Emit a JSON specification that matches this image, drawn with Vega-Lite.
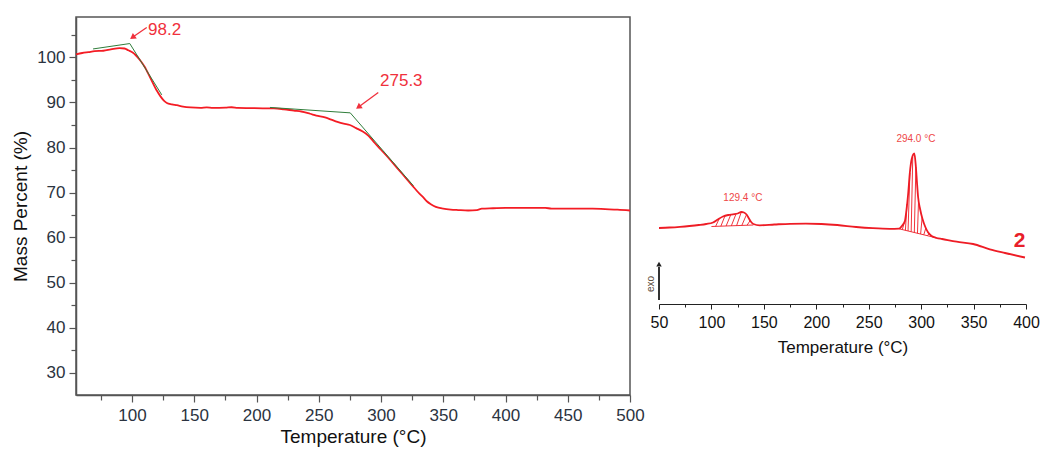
{
  "$schema": "https://vega.github.io/schema/vega-lite/v6.json",
  "padding": {"left": 10, "top": 16, "right": 0, "bottom": 0},
  "spacing": 29,
  "bounds": "flush",
  "config": {"font": "Liberation Sans", "view": {"stroke": null}, "axis": {"grid": false, "labelOverlap": false}},
  "datasets": {
    "tga": [
      {"T": 55, "m": 100.7}, {"T": 60, "m": 101.0}, {"T": 65, "m": 101.2}, {"T": 70, "m": 101.4}, {"T": 77, "m": 101.5},
      {"T": 83, "m": 101.8}, {"T": 90, "m": 102.1}, {"T": 94, "m": 102.0}, {"T": 97, "m": 101.6}, {"T": 100.5, "m": 101.1},
      {"T": 103, "m": 100.5}, {"T": 106.5, "m": 99.4}, {"T": 110, "m": 98.0}, {"T": 115, "m": 95.3}, {"T": 120, "m": 92.6},
      {"T": 123, "m": 91.3}, {"T": 126, "m": 90.3}, {"T": 128, "m": 89.9}, {"T": 132, "m": 89.6}, {"T": 136, "m": 89.4},
      {"T": 141, "m": 89.1}, {"T": 147, "m": 88.9}, {"T": 155, "m": 88.8}, {"T": 160, "m": 88.9}, {"T": 165, "m": 88.8},
      {"T": 175, "m": 88.85}, {"T": 180, "m": 88.95}, {"T": 185, "m": 88.8}, {"T": 195, "m": 88.75}, {"T": 205, "m": 88.7},
      {"T": 214, "m": 88.7}, {"T": 222, "m": 88.5}, {"T": 230, "m": 88.2}, {"T": 236, "m": 88.0}, {"T": 243, "m": 87.5},
      {"T": 248, "m": 87.1}, {"T": 255, "m": 86.7}, {"T": 260, "m": 86.2}, {"T": 265, "m": 85.7}, {"T": 270, "m": 85.3},
      {"T": 275, "m": 85.0}, {"T": 280, "m": 84.3}, {"T": 285, "m": 83.6}, {"T": 290, "m": 82.6}, {"T": 295, "m": 81.0},
      {"T": 300, "m": 79.5}, {"T": 305, "m": 78.0}, {"T": 310, "m": 76.4}, {"T": 315, "m": 74.8}, {"T": 320, "m": 73.2},
      {"T": 325, "m": 71.6}, {"T": 330, "m": 70.0}, {"T": 334, "m": 68.9}, {"T": 337, "m": 68.0}, {"T": 340, "m": 67.4},
      {"T": 344, "m": 66.8}, {"T": 350, "m": 66.4}, {"T": 356, "m": 66.2}, {"T": 362, "m": 66.1}, {"T": 370, "m": 66.0},
      {"T": 377, "m": 66.1}, {"T": 381, "m": 66.4}, {"T": 390, "m": 66.5}, {"T": 400, "m": 66.6}, {"T": 410, "m": 66.6},
      {"T": 420, "m": 66.6}, {"T": 432, "m": 66.6}, {"T": 437, "m": 66.4}, {"T": 450, "m": 66.4}, {"T": 460, "m": 66.4},
      {"T": 470, "m": 66.4}, {"T": 480, "m": 66.3}, {"T": 490, "m": 66.2}, {"T": 500, "m": 66.0}
    ],
    "tangent": [
      {"seg": "a", "T": 68.7, "m": 101.9}, {"seg": "a", "T": 98.2, "m": 103.1}, {"seg": "a", "T": 123.9, "m": 91.7},
      {"seg": "b", "T": 210.8, "m": 88.9}, {"seg": "b", "T": 275.3, "m": 87.7}, {"seg": "b", "T": 326, "m": 71.5}
    ],
    "arrows": [
      {"T": 111.8, "m": 106.65, "T2": 101.0, "m2": 104.6, "label": "98.2", "lT": 112.9, "lm": 106.1},
      {"T": 297.8, "m": 92.24, "T2": 282.5, "m2": 89.1, "label": "275.3", "lT": 299.2, "lm": 94.7}
    ],
    "dsc": [
      {"T": 50, "v": 76}, {"T": 60, "v": 76.5}, {"T": 70, "v": 77.2}, {"T": 79, "v": 78}, {"T": 88, "v": 79},
      {"T": 95, "v": 80}, {"T": 101.5, "v": 81.5}, {"T": 106, "v": 84.5}, {"T": 111, "v": 87.5}, {"T": 116, "v": 89},
      {"T": 120.6, "v": 89.7}, {"T": 125, "v": 90.5}, {"T": 128.6, "v": 92}, {"T": 131, "v": 91.5}, {"T": 133.5, "v": 89.5},
      {"T": 135.5, "v": 86}, {"T": 137.5, "v": 82.5}, {"T": 140, "v": 80}, {"T": 146, "v": 78.7}, {"T": 160, "v": 79.5},
      {"T": 175, "v": 80.2}, {"T": 190, "v": 80.3}, {"T": 205, "v": 80}, {"T": 220, "v": 79}, {"T": 238, "v": 77},
      {"T": 254, "v": 75.8}, {"T": 270, "v": 75.2}, {"T": 279, "v": 75.4}, {"T": 282, "v": 78.5}, {"T": 284.5, "v": 83},
      {"T": 286, "v": 94}, {"T": 287.6, "v": 110}, {"T": 289.2, "v": 131}, {"T": 291, "v": 145}, {"T": 293.5, "v": 150.5},
      {"T": 295, "v": 137}, {"T": 296, "v": 122}, {"T": 297.1, "v": 107}, {"T": 299, "v": 95}, {"T": 301.3, "v": 85},
      {"T": 304, "v": 77}, {"T": 306.7, "v": 71.5}, {"T": 310, "v": 68}, {"T": 314.7, "v": 66}, {"T": 320, "v": 65},
      {"T": 333.8, "v": 62.3}, {"T": 349.6, "v": 60}, {"T": 365.5, "v": 54.7}, {"T": 380, "v": 51}, {"T": 399, "v": 46.5}
    ],
    "hatch": [
      {"T": 100, "v": 77.5, "T2": 140, "v2": 79},
      {"T": 279, "v": 75.2, "T2": 315, "v2": 66},
      {"T": 104, "v": 77.6, "T2": 107.5, "v2": 85.5},
      {"T": 109, "v": 77.8, "T2": 113, "v2": 88.3},
      {"T": 114, "v": 78.0, "T2": 118.5, "v2": 89.4},
      {"T": 119, "v": 78.2, "T2": 123.5, "v2": 90.2},
      {"T": 124, "v": 78.4, "T2": 128.5, "v2": 92},
      {"T": 129, "v": 78.6, "T2": 133.5, "v2": 89.5},
      {"T": 134, "v": 78.8, "T2": 137, "v2": 83.5},
      {"T": 282, "v": 74.4, "T2": 284.5, "v2": 83},
      {"T": 285, "v": 73.7, "T2": 286.5, "v2": 100},
      {"T": 287.5, "v": 73.0, "T2": 289.3, "v2": 131},
      {"T": 290.5, "v": 72.3, "T2": 292, "v2": 147},
      {"T": 293.5, "v": 71.5, "T2": 295, "v2": 137},
      {"T": 296.5, "v": 70.7, "T2": 297.5, "v2": 103},
      {"T": 299.5, "v": 70.0, "T2": 301, "v2": 87},
      {"T": 302.5, "v": 69.2, "T2": 304.5, "v2": 76},
      {"T": 306, "v": 68.3, "T2": 307.5, "v2": 70.3}
    ],
    "peaks": [
      {"T": 130, "v": 106.3, "label": "129.4 °C"},
      {"T": 295, "v": 164.7, "label": "294.0 °C"}
    ],
    "exo": [{"T": 50, "v": 4, "v2": 37, "tip": 39, "lT": 42, "lv": 20, "label": "exo"}],
    "tag": [{"T": 394, "v": 63, "label": "2"}]
  },
  "hconcat": [
    {
      "width": 554,
      "height": 378,
      "view": {"stroke": "#555", "strokeWidth": 1.5},
      "layer": [
        {
          "data": {"name": "tga"},
          "mark": {"type": "line", "color": "#f41c24", "strokeWidth": 1.8, "interpolate": "monotone"},
          "encoding": {
            "x": {"field": "T", "type": "quantitative", "scale": {"domain": [55, 500], "nice": false, "zero": false},
              "axis": {"title": "Temperature (°C)", "values": [75, 100, 125, 150, 175, 200, 225, 250, 275, 300, 325, 350, 375, 400, 425, 450, 475, 500],
                "tickCount": 100,
                "labelExpr": "datum.value % 50 === 0 ? datum.label : ''",
                "labelOverlap": false,
                "tickSize": {"condition": {"test": "datum.value % 50 === 0", "value": 7}, "value": 5},
                "domainColor": "#555", "domainWidth": 1.5, "tickColor": "#555", "tickWidth": 1.2,
                "labelFontSize": 17, "labelColor": "#2b3340", "labelPadding": 5, "labelFlush": false,
                "titleFontSize": 19, "titleFontWeight": "normal", "titleColor": "#111", "titlePadding": 4}},
            "y": {"field": "m", "type": "quantitative", "scale": {"domain": [25, 109], "nice": false, "zero": false},
              "axis": {"title": "Mass Percent (%)", "values": [30, 35, 40, 45, 50, 55, 60, 65, 70, 75, 80, 85, 90, 95, 100, 105],
                "tickCount": 100,
                "labelExpr": "datum.value % 10 === 0 ? datum.label : ''",
                "labelOverlap": false,
                "tickSize": {"condition": {"test": "datum.value % 10 === 0", "value": 7}, "value": 5},
                "domainColor": "#555", "domainWidth": 1.5, "tickColor": "#555", "tickWidth": 1.2,
                "labelFontSize": 17, "labelColor": "#2b3340", "labelPadding": 4, "labelFlush": false,
                "titleFontSize": 19, "titleFontWeight": "normal", "titleColor": "#111", "titlePadding": 6}}
          }
        },
        {
          "data": {"name": "tangent"},
          "mark": {"type": "line", "color": "#2f7d3a", "strokeWidth": 1},
          "encoding": {
            "x": {"field": "T", "type": "quantitative"},
            "y": {"field": "m", "type": "quantitative"},
            "detail": {"field": "seg"}
          }
        },
        {
          "data": {"name": "arrows"},
          "mark": {"type": "rule", "color": "#f0303c", "strokeWidth": 1.3},
          "encoding": {
            "x": {"field": "T", "type": "quantitative"},
            "y": {"field": "m", "type": "quantitative"},
            "x2": {"field": "T2"},
            "y2": {"field": "m2"}
          }
        },
        {
          "data": {"name": "arrows"},
          "mark": {"type": "point", "shape": "triangle", "filled": true, "color": "#f0303c", "size": 45, "angle": 234, "opacity": 1},
          "encoding": {
            "x": {"field": "T2", "type": "quantitative"},
            "y": {"field": "m2", "type": "quantitative"}
          }
        },
        {
          "data": {"name": "arrows"},
          "mark": {"type": "text", "align": "left", "baseline": "middle", "fontSize": 17, "color": "#f0303c"},
          "encoding": {
            "x": {"field": "lT", "type": "quantitative"},
            "y": {"field": "lm", "type": "quantitative"},
            "text": {"field": "label"}
          }
        }
      ]
    },
    {
      "width": 367,
      "height": 287,
      "layer": [
        {
          "data": {"name": "dsc"},
          "mark": {"type": "line", "color": "#ee1c25", "strokeWidth": 1.8, "interpolate": "monotone"},
          "encoding": {
            "x": {"field": "T", "type": "quantitative", "scale": {"domain": [50, 400], "nice": false, "zero": false},
              "axis": {"title": "Temperature (°C)", "values": [50, 75, 100, 125, 150, 175, 200, 225, 250, 275, 300, 325, 350, 375, 400],
                "tickCount": 100,
                "labelExpr": "datum.value % 50 === 0 ? datum.label : ''",
                "labelOverlap": false,
                "tickSize": {"condition": {"test": "datum.value % 50 === 0", "value": 5}, "value": 3},
                "domainColor": "#222", "domainWidth": 1, "tickColor": "#222", "tickWidth": 1,
                "labelFontSize": 16, "labelColor": "#111", "labelPadding": 5, "labelFlush": false,
                "titleFontSize": 17, "titleFontWeight": "normal", "titleColor": "#111", "titlePadding": 9}},
            "y": {"field": "v", "type": "quantitative", "scale": {"domain": [0, 287], "nice": false, "zero": false}, "axis": null}
          }
        },
        {
          "data": {"name": "hatch"},
          "mark": {"type": "rule", "color": "#ee1c25", "strokeWidth": 0.9},
          "encoding": {
            "x": {"field": "T", "type": "quantitative"},
            "y": {"field": "v", "type": "quantitative"},
            "x2": {"field": "T2"},
            "y2": {"field": "v2"}
          }
        },
        {
          "data": {"name": "peaks"},
          "mark": {"type": "text", "align": "center", "baseline": "middle", "fontSize": 10, "color": "#ee4848"},
          "encoding": {
            "x": {"field": "T", "type": "quantitative"},
            "y": {"field": "v", "type": "quantitative"},
            "text": {"field": "label"}
          }
        },
        {
          "data": {"name": "tag"},
          "mark": {"type": "text", "align": "center", "baseline": "middle", "fontSize": 21, "fontWeight": "bold", "color": "#e8202a"},
          "encoding": {
            "x": {"field": "T", "type": "quantitative"},
            "y": {"field": "v", "type": "quantitative"},
            "text": {"field": "label"}
          }
        },
        {
          "data": {"name": "exo"},
          "mark": {"type": "rule", "color": "#333", "strokeWidth": 2},
          "encoding": {
            "x": {"field": "T", "type": "quantitative"},
            "y": {"field": "v", "type": "quantitative"},
            "y2": {"field": "v2"}
          }
        },
        {
          "data": {"name": "exo"},
          "mark": {"type": "point", "shape": "triangle", "filled": true, "color": "#222", "size": 30, "opacity": 1},
          "encoding": {
            "x": {"field": "T", "type": "quantitative"},
            "y": {"field": "tip", "type": "quantitative"}
          }
        },
        {
          "data": {"name": "exo"},
          "mark": {"type": "text", "align": "center", "baseline": "middle", "fontSize": 10, "angle": 270, "color": "#5a4a3a"},
          "encoding": {
            "x": {"field": "lT", "type": "quantitative"},
            "y": {"field": "lv", "type": "quantitative"},
            "text": {"field": "label"}
          }
        }
      ]
    }
  ]
}
